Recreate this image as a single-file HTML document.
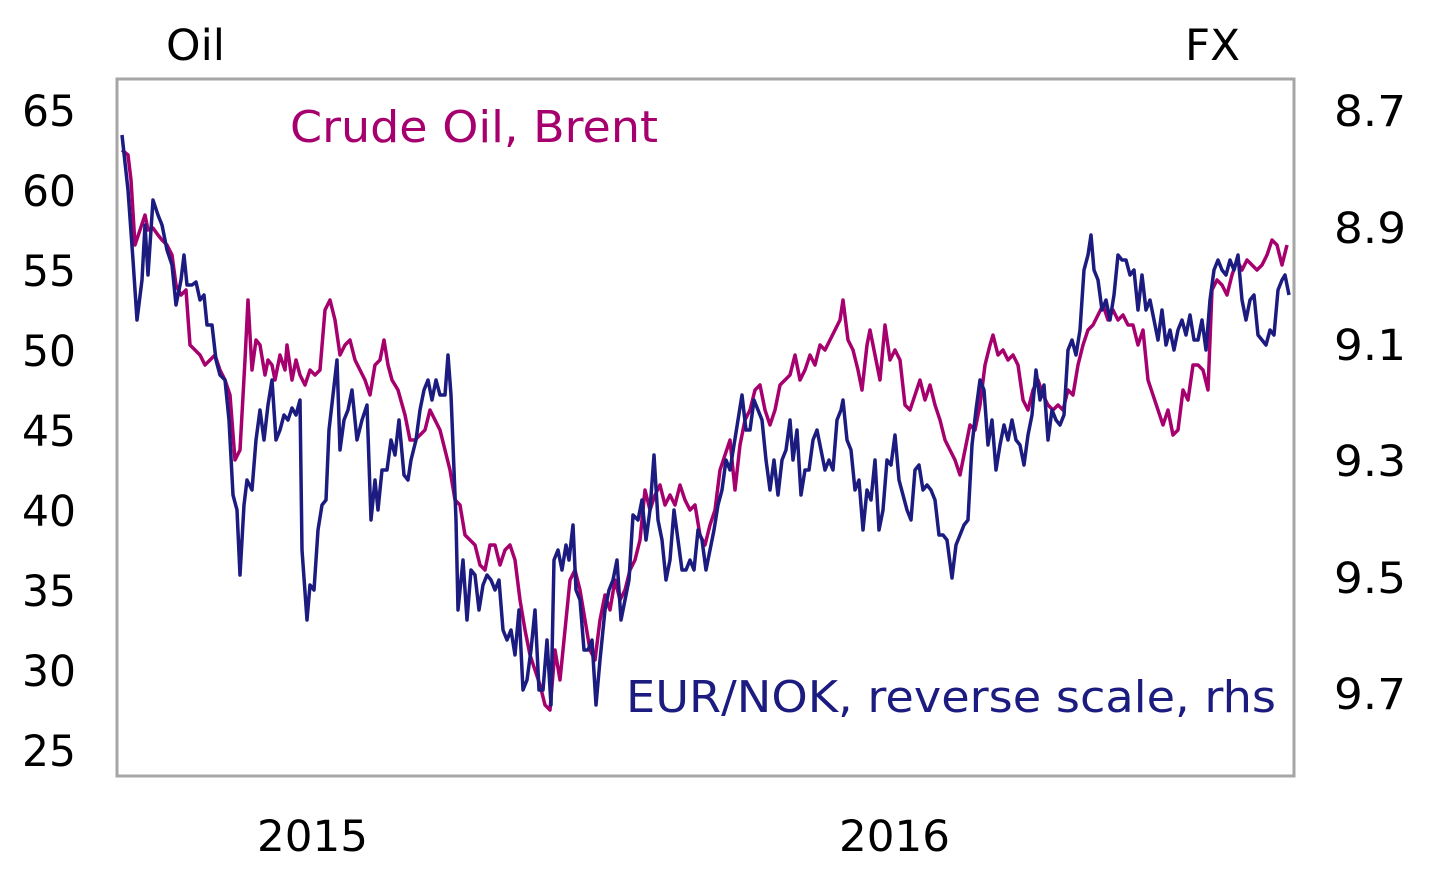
<!DOCTYPE html>
<html><head><meta charset="utf-8"><style>
html,body{margin:0;padding:0;background:#fff;}
svg text{font-family:"DejaVu Sans","Liberation Sans",sans-serif;}
</style></head><body>
<svg width="1440" height="884" viewBox="0 0 1440 884" xmlns="http://www.w3.org/2000/svg">
<rect x="117" y="79" width="1177" height="697" fill="none" stroke="#a6a6a6" stroke-width="3"/>
<g font-size="43" fill="#000" text-anchor="end" lengthAdjust="spacingAndGlyphs">
<text x="76" y="126" textLength="54" lengthAdjust="spacingAndGlyphs">65</text><text x="76" y="206" textLength="54" lengthAdjust="spacingAndGlyphs">60</text><text x="76" y="286" textLength="54" lengthAdjust="spacingAndGlyphs">55</text><text x="76" y="366" textLength="54" lengthAdjust="spacingAndGlyphs">50</text><text x="76" y="446" textLength="54" lengthAdjust="spacingAndGlyphs">45</text><text x="76" y="526" textLength="54" lengthAdjust="spacingAndGlyphs">40</text><text x="76" y="606" textLength="54" lengthAdjust="spacingAndGlyphs">35</text><text x="76" y="686" textLength="54" lengthAdjust="spacingAndGlyphs">30</text><text x="76" y="766" textLength="54" lengthAdjust="spacingAndGlyphs">25</text>
</g>
<g font-size="43" fill="#000" text-anchor="start">
<text x="1334" y="126" textLength="72" lengthAdjust="spacingAndGlyphs">8.7</text><text x="1334" y="243" textLength="72" lengthAdjust="spacingAndGlyphs">8.9</text><text x="1334" y="360" textLength="72" lengthAdjust="spacingAndGlyphs">9.1</text><text x="1334" y="476" textLength="72" lengthAdjust="spacingAndGlyphs">9.3</text><text x="1334" y="593" textLength="72" lengthAdjust="spacingAndGlyphs">9.5</text><text x="1334" y="709" textLength="72" lengthAdjust="spacingAndGlyphs">9.7</text>
</g>
<text x="166" y="60" font-size="43" textLength="59" lengthAdjust="spacingAndGlyphs">Oil</text>
<text x="1185" y="60" font-size="43" textLength="55" lengthAdjust="spacingAndGlyphs">FX</text>
<text x="257" y="851" font-size="43" textLength="111" lengthAdjust="spacingAndGlyphs">2015</text>
<text x="839" y="851" font-size="43" textLength="111" lengthAdjust="spacingAndGlyphs">2016</text>
<text x="290" y="142" font-size="44" fill="#a6006e" textLength="368" lengthAdjust="spacingAndGlyphs">Crude Oil, Brent</text>
<text x="626" y="712" font-size="44" fill="#1b1b80" textLength="650" lengthAdjust="spacingAndGlyphs">EUR/NOK, reverse scale, rhs</text>
<polyline fill="none" stroke="#a6006e" stroke-width="3.5" stroke-linejoin="round" points="122,150 128,155 131,180 135,245 140,230 145,215 148,230 153,228 158,235 162,240 167,245 172,255 176,285 181,295 186,290 190,345 195,350 200,355 205,365 210,360 215,355 220,370 225,380 230,395 235,460 240,450 245,360 248,300 252,370 256,340 260,345 265,375 268,360 272,365 275,380 280,355 285,370 287,345 292,380 296,360 300,375 305,385 310,370 315,375 320,370 325,310 330,300 335,320 340,355 345,345 350,340 355,360 360,370 365,380 370,395 375,365 380,360 384,340 388,365 392,380 398,390 405,415 410,440 415,440 420,435 425,430 430,410 435,420 440,430 445,450 450,470 455,500 460,505 465,535 470,540 475,545 480,565 485,570 490,545 495,545 500,565 505,550 510,545 515,560 520,600 525,630 530,655 535,670 540,685 545,705 550,710 555,650 560,680 565,630 570,580 575,570 580,590 585,620 590,650 595,660 600,620 605,595 610,610 615,580 620,600 625,590 630,570 635,560 640,540 645,490 650,510 655,495 660,485 665,505 670,495 675,505 680,485 685,500 690,510 695,505 700,535 705,545 710,525 715,510 720,470 725,455 730,440 735,490 740,445 745,420 750,410 755,390 760,385 765,410 770,425 775,410 780,385 785,380 790,375 795,355 800,380 805,370 810,355 815,365 820,345 825,350 830,340 835,330 840,320 843,300 848,340 853,350 858,370 862,390 867,345 870,330 875,355 880,380 885,325 890,360 895,350 900,360 905,405 910,410 915,395 920,380 925,400 930,385 935,405 940,420 945,440 950,450 955,460 960,475 965,450 970,425 975,430 980,405 985,365 990,345 993,335 998,355 1003,350 1008,360 1013,355 1018,365 1023,400 1028,410 1033,390 1038,380 1043,395 1048,405 1053,410 1058,405 1063,410 1068,390 1073,395 1078,365 1083,345 1088,330 1093,325 1098,315 1103,305 1108,320 1113,310 1118,320 1123,315 1128,325 1133,325 1138,345 1143,330 1148,380 1153,395 1158,410 1163,425 1168,410 1173,435 1178,430 1183,390 1188,400 1193,365 1198,365 1203,370 1208,390 1212,290 1217,280 1222,285 1227,295 1232,275 1237,260 1242,270 1247,260 1252,265 1257,270 1262,265 1267,255 1272,240 1277,245 1282,265 1287,245"/>
<polyline fill="none" stroke="#1b1b80" stroke-width="3.5" stroke-linejoin="round" points="122,135 128,190 133,260 137,320 142,280 145,225 148,275 153,200 158,215 162,225 167,250 172,265 176,305 181,280 184,255 187,285 192,285 196,282 200,300 204,295 207,325 212,325 216,360 220,375 225,380 229,420 233,495 237,510 240,575 244,505 247,480 252,490 256,440 260,410 264,440 268,405 272,380 276,440 280,430 284,415 288,420 292,408 296,415 300,400 302,550 307,620 310,585 314,590 318,530 322,505 326,500 329,430 333,395 337,360 340,450 344,420 348,410 352,390 357,440 362,420 367,405 371,520 375,480 378,510 382,470 387,470 391,440 395,455 399,420 404,475 408,480 411,460 416,440 420,410 424,390 428,380 432,400 436,380 440,395 445,395 448,355 451,395 456,520 458,610 463,560 467,620 471,570 475,575 479,610 483,585 487,575 491,580 495,590 499,580 503,630 507,640 511,630 515,655 519,610 523,690 527,680 531,650 535,610 539,690 543,690 547,640 551,705 554,560 558,550 562,570 566,545 569,560 573,525 576,590 580,600 584,650 588,650 592,640 596,705 600,660 605,610 609,590 613,580 617,560 621,620 625,600 629,580 633,515 638,520 642,500 646,540 650,510 654,455 658,520 662,540 666,580 670,560 674,510 678,540 682,570 686,570 690,560 694,570 698,530 702,540 706,570 710,550 714,530 718,505 722,490 726,460 730,470 734,445 738,420 742,395 746,430 750,430 754,400 758,410 762,420 766,460 770,490 774,460 778,495 782,460 786,450 790,420 793,460 797,430 801,495 805,470 809,470 813,440 817,430 821,450 825,470 829,460 833,470 837,420 841,410 843,400 847,440 851,450 855,490 859,480 863,530 867,490 871,500 875,460 879,530 883,510 887,460 891,465 895,435 899,480 903,495 907,510 911,520 915,470 919,465 923,490 927,485 931,490 935,500 939,535 943,535 947,540 952,578 956,545 960,535 964,525 968,520 972,445 976,410 980,380 984,390 988,445 992,420 996,470 1000,445 1004,425 1008,440 1012,420 1016,440 1020,445 1024,465 1028,435 1032,415 1036,370 1040,400 1044,385 1048,440 1052,410 1056,420 1060,425 1064,415 1068,350 1072,340 1076,355 1080,330 1084,270 1088,255 1091,235 1094,270 1098,280 1102,310 1106,300 1110,320 1114,295 1118,255 1122,260 1126,260 1130,275 1134,270 1138,310 1142,275 1146,310 1150,300 1154,320 1158,340 1162,310 1166,345 1170,330 1174,350 1178,330 1182,320 1186,335 1190,315 1194,340 1198,340 1202,320 1206,350 1210,300 1214,270 1218,260 1222,270 1226,275 1230,260 1234,270 1238,255 1242,300 1246,320 1250,300 1254,295 1258,335 1262,340 1266,345 1270,330 1274,335 1278,290 1282,280 1285,275 1289,295"/>
</svg>
</body></html>
